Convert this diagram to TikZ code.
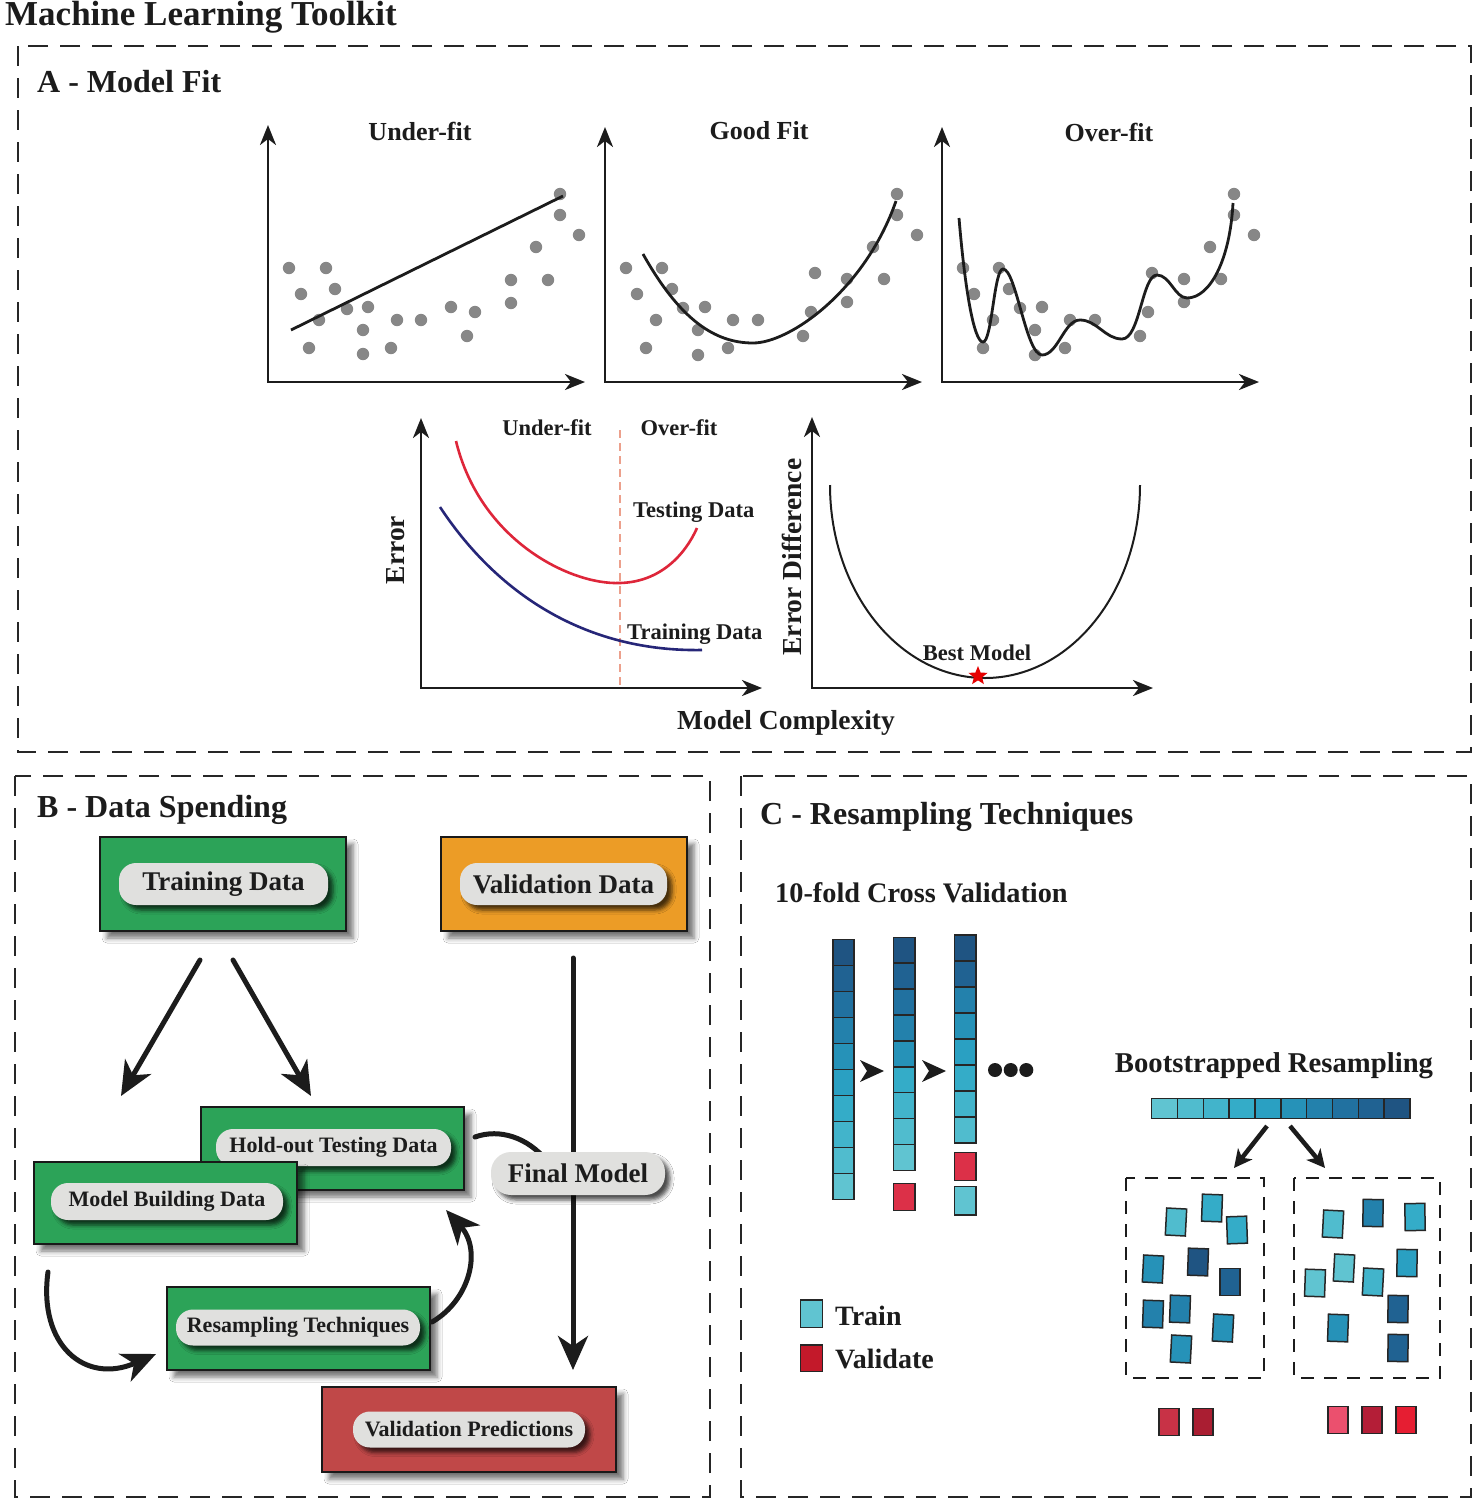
\documentclass[tikz,border=0pt]{standalone}
\usepackage{fontspec}
\setmainfont{Liberation Serif}
\usetikzlibrary{arrows.meta,shapes.geometric,shadows.blur}
\definecolor{boxgreen}{RGB}{44,163,88}
\definecolor{boxorange}{RGB}{236,156,38}
\definecolor{boxred}{RGB}{192,72,72}
\definecolor{pillgray}{RGB}{224,224,222}
\definecolor{dotgray}{RGB}{135,135,135}
\definecolor{testred}{RGB}{222,38,58}
\definecolor{trainblue}{RGB}{38,38,120}
\definecolor{splitline}{RGB}{236,160,140}
\definecolor{cv0}{RGB}{31,84,130}
\definecolor{cv1}{RGB}{32,98,146}
\definecolor{cv2}{RGB}{33,113,160}
\definecolor{cv3}{RGB}{35,129,172}
\definecolor{cv4}{RGB}{38,146,184}
\definecolor{cv5}{RGB}{42,160,194}
\definecolor{cv6}{RGB}{52,172,200}
\definecolor{cv7}{RGB}{66,180,203}
\definecolor{cv8}{RGB}{80,188,206}
\definecolor{cv9}{RGB}{96,196,209}
\definecolor{valred}{RGB}{220,48,72}
\definecolor{rA}{RGB}{200,50,70}
\definecolor{rB}{RGB}{170,30,50}
\definecolor{rC}{RGB}{235,80,110}
\definecolor{rD}{RGB}{180,30,55}
\definecolor{rE}{RGB}{230,30,50}
\definecolor{inkc}{RGB}{28,28,28}
\newcommand{\fsz}[1]{\fontsize{#1}{#1}\selectfont\bfseries}
\newcommand{\bsq}[4]{\filldraw[cellst, fill=#3, rotate around={#4:(#1,#2)}] ({#1-10},{#2-13.5}) rectangle ({#1+10},{#2+13.5});}
\tikzset{
  panelbox/.style={draw=black!85, line width=2.5pt, dash pattern=on 20pt off 12pt},
  axes/.style={draw=inkc, line width=2.5pt, arrows={Stealth[length=20pt,width=16pt,inset=6pt]-Stealth[length=20pt,width=16pt,inset=6pt]}},
  fitline/.style={draw=inkc, line width=2.8pt},
  cellst/.style={draw=black!85, line width=1.5pt},
  databox/.style={draw=black!90, line width=2pt, inner sep=0pt, blur shadow={shadow xshift=7pt, shadow yshift=-7pt, shadow blur radius=5pt, shadow opacity=55}},
  pill/.style={fill=pillgray, rounded corners=17pt, inner sep=0pt, text=inkc, blur shadow={shadow xshift=5pt, shadow yshift=-5pt, shadow blur radius=4pt, shadow opacity=70}},
  bigarrow/.style={draw=inkc, line width=5pt, line cap=round, arrows={-Stealth[length=34pt,width=30pt,inset=10pt]}},
  thickcurve/.style={draw=inkc, line width=5pt, line cap=round},
  lbl/.style={inner sep=0pt, text=inkc},
}
\begin{document}
\begin{tikzpicture}[x=1pt,y=-1pt]
\useasboundingbox (0,0) rectangle (1474,1500);
\fill[white] (0,0) rectangle (1474,1500);

% ---------- title and panels
\node[lbl, anchor=base west, font=\fsz{35}] (title) at (5,25) {Machine Learning Toolkit};
\draw[panelbox] (18,46) rectangle (1471,752);
\draw[panelbox] (15,776) rectangle (710,1497);
\draw[panelbox] (741,776) rectangle (1471,1497);
\node[lbl, anchor=base west, font=\fsz{32}] (labA) at (37,92) {A - Model Fit};
\node[lbl, anchor=base west, font=\fsz{32}] (labB) at (37,817) {B - Data Spending};
\node[lbl, anchor=base west, font=\fsz{32}] (labC) at (760,824) {C - Resampling Techniques};

% ---------- A: three fit plots
\draw[axes] (268,125) -- (268,382) -- (585,382);
\draw[axes] (605,127) -- (605,382) -- (922,382);
\draw[axes] (942,127) -- (942,382) -- (1259,382);
\node[lbl, anchor=base, font=\fsz{26}] (t1) at (420,140) {Under-fit};
\node[lbl, anchor=base, font=\fsz{26}] (t2) at (759,139) {Good Fit};
\node[lbl, anchor=base, font=\fsz{26}] (t3) at (1109,141) {Over-fit};

\foreach \p in {(289,268),(326,268),(301,294),(335,289),(347,309),(368,307),(319,320),(363,330),(397,320),(421,320),(451,307),(475,312),(467,336),(309,348),(363,354),(391,348),(511,280),(511,303),(536,247),(548,280),(560,194),(560,215),(579,235)}
  \fill[dotgray] \p circle (6.2pt);
\foreach \dx in {337,674}{
 \begin{scope}[xshift=\dx pt]
 \foreach \p in {(289,268),(325,268),(300,294),(335,289),(346,308),(368,307),(319,320),(361,330),(396,320),(421,320),(474,312),(466,336),(309,348),(361,355),(391,348),(478,273),(510,279),(510,302),(536,247),(547,279),(560,194),(560,215),(580,235)}
  \fill[dotgray] \p circle (6.2pt);
 \end{scope}}

\draw[fitline] (291,330) -- (563,196);
\draw[fitline] (643,254) .. controls (680,320) and (715,343) .. (753,343) .. controls (790,343) and (865,290) .. (896,201);
\draw[fitline] (959,218) .. controls (965,290) and (974,342) .. (983,342)
  .. controls (992,342) and (994,269) .. (1003,269)
  .. controls (1016,269) and (1026,355) .. (1042,355)
  .. controls (1058,355) and (1064,320) .. (1080,320)
  .. controls (1097,320) and (1105,339) .. (1122,339)
  .. controls (1140,339) and (1142,275) .. (1157,275)
  .. controls (1170,275) and (1175,298) .. (1187,298)
  .. controls (1210,298) and (1230,260) .. (1233,203);

% ---------- A: error plot
\draw[axes] (421,418) -- (421,688) -- (762,688);
\draw[splitline, line width=2.5pt, dash pattern=on 8pt off 5pt] (620,430) -- (620,688);
\draw[testred, line width=2.6pt] (456,441) .. controls (480,540) and (570,585) .. (620,583) .. controls (660,582) and (685,555) .. (697,528);
\draw[trainblue, line width=2.6pt] (440,507) .. controls (500,598) and (590,652) .. (702,650);
\node[lbl, anchor=base, font=\fsz{22.5}] (uf) at (547,435) {Under-fit};
\node[lbl, anchor=base, font=\fsz{22.5}] (of) at (679,435) {Over-fit};
\node[lbl, anchor=base west, font=\fsz{22.5}] (testl) at (633,517) {Testing Data};
\node[lbl, anchor=base west, font=\fsz{22.5}] (trainl) at (627,639) {Training Data};
\node[lbl, rotate=90, font=\fsz{27.5}] (errl) at (396,550) {Error};

% ---------- A: error difference plot
\draw[axes] (812,417) -- (812,688) -- (1153,688);
\draw[draw=inkc, line width=2pt] (830,485) .. controls (830,591.6) and (899.4,678) .. (985,678) .. controls (1070.6,678) and (1140,591.6) .. (1140,485);
\node[star, star points=5, star point ratio=2.3, fill=red!90!black, inner sep=0pt, minimum size=20pt] (best) at (978,676) {};
\node[lbl, anchor=base, font=\fsz{22.5}] (bestl) at (977,660) {Best Model};
\node[lbl, rotate=90, font=\fsz{27.5}] (edl) at (792,557) {Error Difference};
\node[lbl, anchor=base, font=\fsz{27.5}] (mcl) at (786,729) {Model Complexity};

% ---------- B: data spending
\node[databox, fill=boxgreen, minimum width=246pt, minimum height=94pt] (trainbox) at (223,884) {};
\node[pill, minimum width=209pt, minimum height=42pt, font=\fsz{27}] (trainpill) at (223.5,884) {Training Data};
\node[databox, fill=boxorange, minimum width=246pt, minimum height=94pt] (valbox) at (564,884) {};
\node[pill, minimum width=207pt, minimum height=42pt, font=\fsz{27}] (valpill) at (563.5,884) {Validation Data};

\coordinate (tdA) at (200,960); \coordinate (tdB) at (121,1096);
\coordinate (tdC) at (233,960); \coordinate (tdD) at (311,1096);
\draw[bigarrow] (tdA) -- (tdB);
\draw[bigarrow] (tdC) -- (tdD);

\coordinate (vlA) at (573,958); \coordinate (vlB) at (573,1370);
\draw[bigarrow] (vlA) -- (vlB);

\node[databox, fill=boxgreen, minimum width=263pt, minimum height=83pt] (holdbox) at (332.5,1148.5) {};
\node[pill, minimum width=235pt, minimum height=37pt, font=\fsz{22}] (holdpill) at (333.5,1147.5) {Hold-out Testing Data};

\coordinate (hcA) at (475,1137); \coordinate (hcB) at (546,1160);
\draw[thickcurve] (hcA) .. controls (500,1128) and (528,1138) .. (hcB);
\node[pill, minimum width=174pt, minimum height=43pt, rounded corners=20pt, font=\fsz{27}] (finalpill) at (578,1173.5) {Final Model};

\node[databox, fill=boxgreen, minimum width=263pt, minimum height=82pt] (mbbox) at (165.5,1203) {};
\node[pill, minimum width=232pt, minimum height=37pt, font=\fsz{22}] (mbpill) at (167,1201.5) {Model Building Data};

\node[databox, fill=boxgreen, minimum width=263pt, minimum height=83pt] (rsbox) at (298.5,1328.5) {};
\node[pill, minimum width=244pt, minimum height=36pt, font=\fsz{22}] (rspill) at (298,1327.5) {Resampling Techniques};

\node[databox, fill=boxred, minimum width=294pt, minimum height=85pt] (vpbox) at (469,1429.5) {};
\node[pill, minimum width=232pt, minimum height=36pt, font=\fsz{22}] (vppill) at (469,1429.5) {Validation Predictions};

\coordinate (c2A) at (48,1272); \coordinate (c2B) at (156,1354);
\draw[bigarrow] (c2A) .. controls (38,1345) and (85,1385) .. (c2B);
\coordinate (c3A) at (432,1322); \coordinate (c3B) at (446,1210);
\draw[bigarrow] (c3A) .. controls (470,1300) and (482,1250) .. (c3B);

% ---------- C: cross validation
\node[lbl, anchor=base west, font=\fsz{28.3}] (cvl) at (775,902) {10-fold Cross Validation};
\foreach \i in {0,...,9}
  \filldraw[cellst, fill=cv\i] (833,{939.3+26*\i}) rectangle ++(21,26);
\foreach \i/\c in {0/0,1/1,2/2,3/3,4/4,5/6,6/7,7/8,8/9}
  \filldraw[cellst, fill=cv\c] (893.5,{937.3+25.9*\i}) rectangle ++(21.5,25.9);
\filldraw[cellst, fill=valred] (893.5,1183.3) rectangle (915,1210.7);
\foreach \i/\c in {0/0,1/1,2/3,3/4,4/5,5/6,6/7,7/8}
  \filldraw[cellst, fill=cv\c] (954.3,{935+26*\i}) rectangle ++(21.7,26);
\filldraw[cellst, fill=valred] (954.3,1152.7) rectangle (976,1180.7);
\filldraw[cellst, fill=cv9] (954.3,1186.7) rectangle (976,1215);
\fill[inkc] (860,1060) -- (884,1071) -- (860,1082) -- (867,1071) -- cycle;
\fill[inkc] (922,1060) -- (946,1071) -- (922,1082) -- (929,1071) -- cycle;
\fill[inkc] (995,1070) circle (7pt);
\fill[inkc] (1010.7,1070) circle (7pt);
\fill[inkc] (1026.3,1070) circle (7pt);

% legend
\filldraw[cellst, fill=cv9] (800.7,1300) rectangle (822.3,1327.7);
\filldraw[cellst, fill=rE!85!black] (800.7,1345) rectangle (822.3,1371.7);
\node[lbl, anchor=base west, font=\fsz{28}] (legtrain) at (835,1325) {Train};
\node[lbl, anchor=base west, font=\fsz{28}] (legval) at (835,1368) {Validate};

% ---------- C: bootstrap
\node[lbl, anchor=base, font=\fsz{28.7}] (bsl) at (1274,1072) {Bootstrapped Resampling};
\foreach \i in {0,...,9}{
  \pgfmathtruncatemacro{\cc}{9-\i}
  \filldraw[cellst, fill=cv\cc] ({1151.7+25.83*\i},1098.3) rectangle ++(25.83,20);}
\coordinate (bsA) at (1267,1126); \coordinate (bsB) at (1234,1168);
\coordinate (bsC) at (1290,1126); \coordinate (bsD) at (1325,1168);
\draw[draw=inkc, line width=4.5pt, arrows={-Stealth[length=18pt,width=18pt,inset=5pt]}] (bsA) -- (bsB);
\draw[draw=inkc, line width=4.5pt, arrows={-Stealth[length=18pt,width=18pt,inset=5pt]}] (bsC) -- (bsD);
\draw[draw=inkc, line width=2.2pt, dash pattern=on 13pt off 10pt] (1126,1178.3) rectangle (1264,1378.3);
\draw[draw=inkc, line width=2.2pt, dash pattern=on 13pt off 10pt] (1294.3,1178.3) rectangle (1440,1378.3);

\bsq{1176}{1222}{cv8}{-3}
\bsq{1212}{1208}{cv6}{-2}
\bsq{1237}{1230}{cv6}{2}
\bsq{1153}{1269}{cv4}{-3}
\bsq{1198}{1262}{cv0}{-2}
\bsq{1230}{1282}{cv1}{0}
\bsq{1153}{1314}{cv3}{-2}
\bsq{1180}{1309}{cv3}{-2}
\bsq{1223}{1328}{cv4}{-3}
\bsq{1181}{1349}{cv4}{-3}

\bsq{1333}{1224}{cv8}{-3}
\bsq{1373}{1213}{cv3}{-1}
\bsq{1415}{1217}{cv6}{1}
\bsq{1315}{1283}{cv9}{-2}
\bsq{1344}{1268}{cv9}{-3}
\bsq{1373}{1282}{cv7}{-3}
\bsq{1407}{1263}{cv5}{-1}
\bsq{1398}{1309}{cv1}{-1}
\bsq{1338}{1328}{cv4}{-2}
\bsq{1398}{1348}{cv1}{-1}

\bsq{1169}{1422}{rA}{0}
\bsq{1203}{1422}{rB}{0}
\bsq{1338}{1420}{rC}{0}
\bsq{1372}{1420}{rD}{0}
\bsq{1406}{1420}{rE}{0}
\end{tikzpicture}
\end{document}
